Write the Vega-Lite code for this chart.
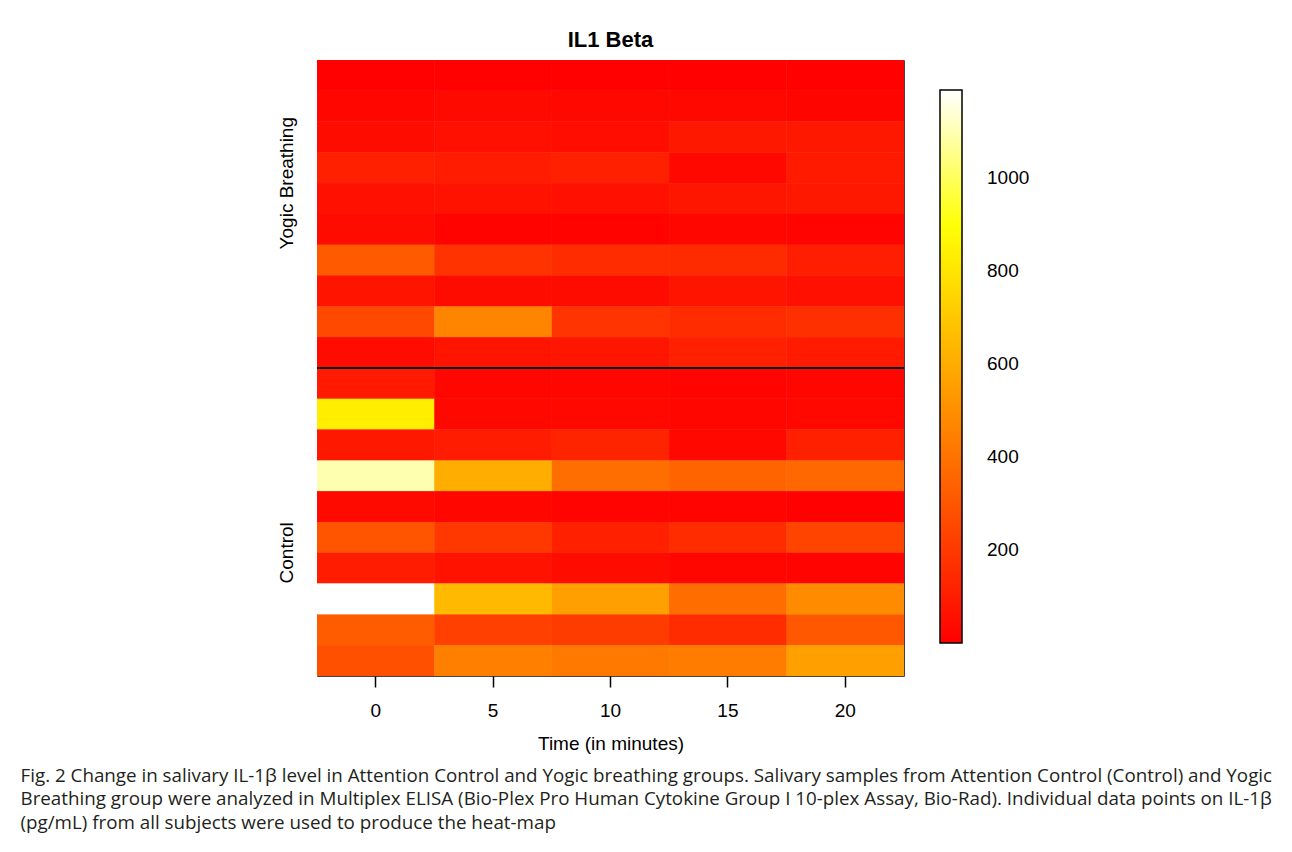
{
  "$schema": "https://vega.github.io/schema/vega-lite/v6.json",
  "background": "white",
  "padding": {"left": 20, "top": 28, "right": 5, "bottom": 5},
  "title": {
    "text": [
      "Fig. 2 Change in salivary IL-1β level in Attention Control and Yogic breathing groups. Salivary samples from Attention Control (Control) and Yogic",
      "Breathing group were analyzed in Multiplex ELISA (Bio-Plex Pro Human Cytokine Group I 10-plex Assay, Bio-Rad). Individual data points on IL-1β",
      "(pg/mL) from all subjects were used to produce the heat-map"
    ],
    "orient": "bottom",
    "anchor": "start",
    "dx": -256,
    "offset": 13,
    "font": "Open Sans",
    "fontSize": 18.8,
    "fontWeight": "normal",
    "color": "#231F20",
    "lineHeight": 23.5
  },
  "datasets": {
    "cells": [
      {"subject": "Y01", "time": 0, "value": 5}, {"subject": "Y01", "time": 5, "value": 5}, {"subject": "Y01", "time": 10, "value": 5}, {"subject": "Y01", "time": 15, "value": 8}, {"subject": "Y01", "time": 20, "value": 8},
      {"subject": "Y02", "time": 0, "value": 25}, {"subject": "Y02", "time": 5, "value": 35}, {"subject": "Y02", "time": 10, "value": 28}, {"subject": "Y02", "time": 15, "value": 28}, {"subject": "Y02", "time": 20, "value": 18},
      {"subject": "Y03", "time": 0, "value": 42}, {"subject": "Y03", "time": 5, "value": 56}, {"subject": "Y03", "time": 10, "value": 49}, {"subject": "Y03", "time": 15, "value": 84}, {"subject": "Y03", "time": 20, "value": 84},
      {"subject": "Y04", "time": 0, "value": 112}, {"subject": "Y04", "time": 5, "value": 98}, {"subject": "Y04", "time": 10, "value": 112}, {"subject": "Y04", "time": 15, "value": 28}, {"subject": "Y04", "time": 20, "value": 91},
      {"subject": "Y05", "time": 0, "value": 56}, {"subject": "Y05", "time": 5, "value": 63}, {"subject": "Y05", "time": 10, "value": 56}, {"subject": "Y05", "time": 15, "value": 77}, {"subject": "Y05", "time": 20, "value": 84},
      {"subject": "Y06", "time": 0, "value": 42}, {"subject": "Y06", "time": 5, "value": 11}, {"subject": "Y06", "time": 10, "value": 11}, {"subject": "Y06", "time": 15, "value": 21}, {"subject": "Y06", "time": 20, "value": 14},
      {"subject": "Y07", "time": 0, "value": 315}, {"subject": "Y07", "time": 5, "value": 178}, {"subject": "Y07", "time": 10, "value": 154}, {"subject": "Y07", "time": 15, "value": 150}, {"subject": "Y07", "time": 20, "value": 105},
      {"subject": "Y08", "time": 0, "value": 70}, {"subject": "Y08", "time": 5, "value": 42}, {"subject": "Y08", "time": 10, "value": 42}, {"subject": "Y08", "time": 15, "value": 70}, {"subject": "Y08", "time": 20, "value": 56},
      {"subject": "Y09", "time": 0, "value": 252}, {"subject": "Y09", "time": 5, "value": 462}, {"subject": "Y09", "time": 10, "value": 182}, {"subject": "Y09", "time": 15, "value": 154}, {"subject": "Y09", "time": 20, "value": 168},
      {"subject": "Y10", "time": 0, "value": 42}, {"subject": "Y10", "time": 5, "value": 70}, {"subject": "Y10", "time": 10, "value": 77}, {"subject": "Y10", "time": 15, "value": 112}, {"subject": "Y10", "time": 20, "value": 91},
      {"subject": "C01", "time": 0, "value": 91}, {"subject": "C01", "time": 5, "value": 21}, {"subject": "C01", "time": 10, "value": 21}, {"subject": "C01", "time": 15, "value": 14}, {"subject": "C01", "time": 20, "value": 21},
      {"subject": "C02", "time": 0, "value": 833}, {"subject": "C02", "time": 5, "value": 28}, {"subject": "C02", "time": 10, "value": 28}, {"subject": "C02", "time": 15, "value": 21}, {"subject": "C02", "time": 20, "value": 28},
      {"subject": "C03", "time": 0, "value": 84}, {"subject": "C03", "time": 5, "value": 98}, {"subject": "C03", "time": 10, "value": 126}, {"subject": "C03", "time": 15, "value": 28}, {"subject": "C03", "time": 20, "value": 112},
      {"subject": "C04", "time": 0, "value": 1098}, {"subject": "C04", "time": 5, "value": 610}, {"subject": "C04", "time": 10, "value": 385}, {"subject": "C04", "time": 15, "value": 350}, {"subject": "C04", "time": 20, "value": 364},
      {"subject": "C05", "time": 0, "value": 35}, {"subject": "C05", "time": 5, "value": 21}, {"subject": "C05", "time": 10, "value": 14}, {"subject": "C05", "time": 15, "value": 14}, {"subject": "C05", "time": 20, "value": 7},
      {"subject": "C06", "time": 0, "value": 294}, {"subject": "C06", "time": 5, "value": 196}, {"subject": "C06", "time": 10, "value": 112}, {"subject": "C06", "time": 15, "value": 154}, {"subject": "C06", "time": 20, "value": 238},
      {"subject": "C07", "time": 0, "value": 98}, {"subject": "C07", "time": 5, "value": 63}, {"subject": "C07", "time": 10, "value": 42}, {"subject": "C07", "time": 15, "value": 21}, {"subject": "C07", "time": 20, "value": 14},
      {"subject": "C08", "time": 0, "value": 1190}, {"subject": "C08", "time": 5, "value": 651}, {"subject": "C08", "time": 10, "value": 560}, {"subject": "C08", "time": 15, "value": 378}, {"subject": "C08", "time": 20, "value": 490},
      {"subject": "C09", "time": 0, "value": 322}, {"subject": "C09", "time": 5, "value": 224}, {"subject": "C09", "time": 10, "value": 210}, {"subject": "C09", "time": 15, "value": 154}, {"subject": "C09", "time": 20, "value": 308},
      {"subject": "C10", "time": 0, "value": 280}, {"subject": "C10", "time": 5, "value": 448}, {"subject": "C10", "time": 10, "value": 420}, {"subject": "C10", "time": 15, "value": 434}, {"subject": "C10", "time": 20, "value": 560}
    ],
    "boundary": [{"subject": "C01"}]
  },
  "vconcat": [
    {
      "title": {
        "text": "IL1 Beta",
        "font": "Liberation Sans",
        "fontSize": 22,
        "fontWeight": "bold",
        "color": "black",
        "anchor": "middle",
        "frame": "group",
        "offset": 8
      },
      "width": 587,
      "height": 616,
      "encoding": {
        "x": {
          "field": "time",
          "type": "ordinal",
          "scale": {"paddingInner": 0, "paddingOuter": 0},
          "axis": {
            "title": "Time (in minutes)",
            "labelAngle": 0,
            "domain": false,
            "ticks": true,
            "tickSize": 11,
            "tickColor": "black",
            "tickWidth": 1.5,
            "labelFontSize": 19,
            "labelPadding": 14,
            "titleFontSize": 19,
            "titleFontWeight": "normal",
            "titlePadding": 14
          }
        },
        "y": {
          "field": "subject",
          "type": "ordinal",
          "sort": null,
          "scale": {
            "domain": ["Y01", "Y02", "Y03", "Y04", "Y05", "Y06", "Y07", "Y08", "Y09", "Y10", "C01", "C02", "C03", "C04", "C05", "C06", "C07", "C08", "C09", "C10"],
            "paddingInner": 0,
            "paddingOuter": 0
          },
          "axis": {
            "title": null,
            "domain": false,
            "ticks": false,
            "tickSize": 0,
            "labelAngle": -90,
            "labelFontSize": 19,
            "labelPadding": 21,
            "labelOffset": 15.4,
            "labelOverlap": false,
            "labelExpr": "datum.value == 'Y04' ? 'Yogic Breathing' : (datum.value == 'C06' ? 'Control' : '')"
          }
        },
        "color": {
          "field": "value",
          "type": "quantitative",
          "scale": {
            "type": "linear",
            "domain": [0, 892, 1190],
            "range": ["#FF0000", "#FFFF00", "#FFFFFF"],
            "interpolate": "rgb",
            "nice": false,
            "zero": false,
            "clamp": true
          },
          "legend": {
            "title": null,
            "orient": "none",
            "legendX": 623,
            "legendY": 30,
            "direction": "vertical",
            "gradientLength": 553,
            "gradientThickness": 22,
            "gradientStrokeColor": "black",
            "gradientStrokeWidth": 1.5,
            "values": [200, 400, 600, 800, 1000],
            "format": "d",
            "labelFontSize": 19,
            "labelOffset": 25,
            "labelColor": "black",
            "labelOverlap": false
          }
        }
      },
      "layer": [
        {
          "data": {"name": "cells"},
          "mark": {"type": "rect"}
        },
        {
          "data": {"name": "cells"},
          "mark": {"type": "rect"}
        },
        {
          "data": {"name": "boundary"},
          "mark": {"type": "rule", "color": "black", "strokeWidth": 2},
          "encoding": {
            "x": null,
            "color": null,
            "y": {"field": "subject", "type": "ordinal", "bandPosition": 0}
          }
        }
      ]
    }
  ],
  "config": {
    "view": {"stroke": "#444", "strokeWidth": 1},
    "axis": {"labelFont": "Liberation Sans", "titleFont": "Liberation Sans", "labelColor": "black", "titleColor": "black"},
    "legend": {"labelFont": "Liberation Sans"}
  }
}
